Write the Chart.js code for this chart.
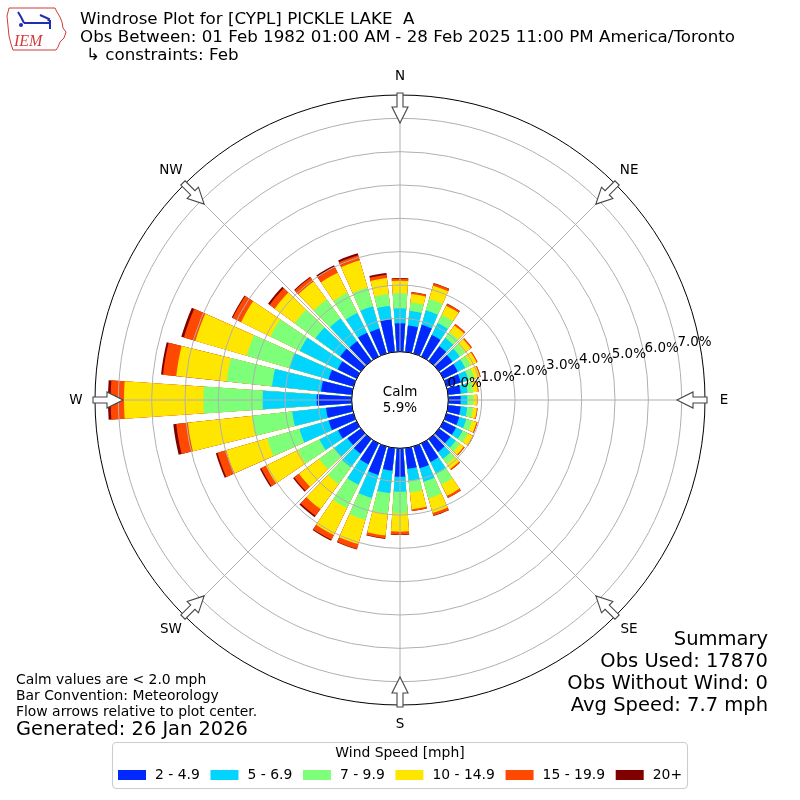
<!DOCTYPE html>
<html>
<head>
<meta charset="utf-8">
<script src="https://cdn.jsdelivr.net/npm/chart.js@4/dist/chart.umd.min.js"></script>
<style>
  body { margin: 0; background: #fff; }
  canvas { display: block; }
</style>
</head>
<body>
<canvas id="rose" width="800" height="800"></canvas>
<script>
// directions (deg, where the wind blows from)
const directions = [0,10,20,30,40,50,60,70,80,90,100,110,120,130,140,150,160,170,
                    180,190,200,210,220,230,240,250,260,270,280,290,300,310,320,330,340,350];
const speedBins = ['2 - 4.9', '5 - 6.9', '7 - 9.9', '10 - 14.9', '15 - 19.9', '20+'];
const binColors = ['#0028ff', '#00d4ff', '#7dff7a', '#ffe600', '#ff4800', '#800000'];

// frequency (%) per direction, one array per speed bin
const speed2to5   = [0.85,0.80,0.90,0.72,0.55,0.50,0.48,0.45,0.38,0.37,0.38,0.40,0.42,0.42,0.48,0.62,0.68,0.63,
                     0.85,0.68,0.89,0.70,0.55,0.50,0.62,0.78,0.78,1.05,0.93,0.78,0.63,0.77,0.73,0.80,0.78,0.99];
const speed5to7   = [0.45,0.44,0.45,0.40,0.30,0.27,0.25,0.24,0.21,0.20,0.20,0.22,0.22,0.20,0.25,0.40,0.42,0.36,
                     0.45,0.68,0.72,0.68,0.50,0.50,0.62,0.91,1.02,1.62,1.48,1.23,1.27,0.92,0.85,0.66,0.70,0.40];
const speed7to10  = [0.45,0.26,0.35,0.28,0.22,0.20,0.19,0.18,0.17,0.18,0.17,0.18,0.18,0.16,0.20,0.35,0.52,0.35,
                     0.65,0.62,0.68,0.78,0.62,0.55,0.72,1.01,1.22,1.78,1.37,1.33,0.98,0.77,0.70,0.67,0.58,0.36];
const speed10to15 = [0.38,0.25,0.42,0.30,0.25,0.21,0.19,0.17,0.14,0.11,0.12,0.14,0.16,0.14,0.18,0.38,0.46,0.51,
                     0.55,0.66,0.76,0.90,0.93,0.75,1.07,1.28,1.93,2.38,1.52,1.60,0.98,0.74,0.67,0.67,0.85,0.48];
const speed15to20 = [0.06,0.05,0.07,0.06,0.05,0.04,0.03,0.03,0.02,0.01,0.02,0.03,0.03,0.03,0.04,0.07,0.08,0.05,
                     0.09,0.08,0.15,0.16,0.25,0.18,0.16,0.27,0.35,0.40,0.40,0.36,0.28,0.19,0.15,0.20,0.16,0.10];
const speed20plus = [0.02,0.01,0.01,0.01,0,0,0,0,0,0,0,0,0,0,0,0,0.01,0,
                     0.01,0.02,0.02,0.03,0.05,0.04,0.04,0.05,0.09,0.08,0.06,0.08,0.03,0.06,0.03,0.05,0.06,0.05];

const tickValues = [0, 1, 2, 3, 4, 5, 6, 7];
const calmPct = '5.9%';
const compassNames = ['N', 'NE', 'E', 'SE', 'S', 'SW', 'W', 'NW'];

const titleLines = ['Windrose Plot for [CYPL] PICKLE LAKE  A',
  'Obs Between: 01 Feb 1982 01:00 AM - 28 Feb 2025 11:00 PM America/Toronto'];
const constraintLine = '\u21b3 constraints: Feb';
const noteLines = ['Calm values are < 2.0 mph', 'Bar Convention: Meteorology', 'Flow arrows relative to plot center.'];
const generatedLine = 'Generated: 26 Jan 2026';
const summaryLines = ['Summary', 'Obs Used: 17870', 'Obs Without Wind: 0', 'Avg Speed: 7.7 mph'];

// ----------------- build stacked datasets -----------------
const bins = [speed2to5, speed5to7, speed7to10, speed10to15, speed15to20, speed20plus];
const BAR_DEG = 7.8, GAP_DEG = 10 - BAR_DEG;
const FONT = "'DejaVu Sans', sans-serif";
const SMALL = '13.9px ' + FONT;

// every direction is followed by an empty slot that makes the gap between bars
const labels = [];
directions.forEach(d => { labels.push(d + '\u00b0'); labels.push(''); });

let running = directions.map(() => 0);
const datasets = bins.map((bin, k) => {
    running = running.map((v, i) => v + bin[i]);
    const data = [];
    running.forEach(v => { data.push(+v.toFixed(2)); data.push(0); });
    return {
        label: speedBins[k],
        data: data,
        backgroundColor: binColors[k],
        borderWidth: 0,
        angle: ctx => (ctx.dataIndex % 2 === 0 ? BAR_DEG : GAP_DEG)
    };
});

// ----------------- decorations -----------------
function drawArrow(ctx, cx, cy, theta) {
    const pts = [[277, 0], [293, 8], [293, 3], [307, 3], [307, -3], [293, -3], [293, -8]];
    const ux = Math.sin(theta), uy = -Math.cos(theta);
    const px = -uy, py = ux;
    ctx.beginPath();
    pts.forEach((p, i) => {
        const x = cx + ux * p[0] + px * p[1];
        const y = cy + uy * p[0] + py * p[1];
        if (i === 0) ctx.moveTo(x, y); else ctx.lineTo(x, y);
    });
    ctx.closePath();
    ctx.fillStyle = '#fff';
    ctx.fill();
    ctx.strokeStyle = '#444';
    ctx.lineWidth = 1.1;
    ctx.stroke();
}

function drawLogo(ctx) {
    ctx.save();
    ctx.strokeStyle = '#d43a3a';
    ctx.lineWidth = 1;
    ctx.beginPath();
    const outline = [[9,8],[55,8],[57,12],[60,17],[62,22],[63,28],[66,32],[64,38],[60,42],[58,47],[56,50],
                     [13,50],[11,44],[9,36],[8,26],[7,16]];
    outline.forEach((p, i) => (i === 0 ? ctx.moveTo(p[0], p[1]) : ctx.lineTo(p[0], p[1])));
    ctx.closePath();
    ctx.stroke();
    ctx.strokeStyle = '#1f2fb0';
    ctx.fillStyle = '#1f2fb0';
    ctx.lineWidth = 2;
    ctx.beginPath(); ctx.moveTo(24, 23); ctx.lineTo(50, 23); ctx.stroke();
    ctx.beginPath(); ctx.moveTo(18, 12); ctx.lineTo(21, 17); ctx.lineTo(24, 23); ctx.stroke();
    ctx.beginPath(); ctx.moveTo(40, 15); ctx.lineTo(49, 19); ctx.lineTo(48, 21); ctx.stroke();
    ctx.beginPath(); ctx.moveTo(50, 20); ctx.lineTo(50, 29); ctx.stroke();
    ctx.beginPath(); ctx.arc(21, 25, 2, 0, Math.PI * 2); ctx.fill();
    ctx.fillStyle = '#d43a3a';
    ctx.font = "italic 16px 'Liberation Serif', serif";
    ctx.textBaseline = 'alphabetic';
    ctx.textAlign = 'left';
    ctx.fillText('IEM', 14, 46);
    ctx.restore();
}

const windrosePlugin = {
    id: 'windrose',
    afterDatasetsDraw(chart) {
        // calm circle covers the bar roots
        const s = chart.scales.r, ctx = chart.ctx;
        ctx.save();
        ctx.beginPath();
        ctx.arc(s.xCenter, s.yCenter, s.getDistanceFromCenterForValue(0), 0, Math.PI * 2);
        ctx.fillStyle = '#fff';
        ctx.fill();
        ctx.restore();
    },
    afterDraw(chart) {
        const s = chart.scales.r, ctx = chart.ctx;
        const cx = s.xCenter, cy = s.yCenter;
        const hole = s.getDistanceFromCenterForValue(0);
        const outer = s.drawingArea;
        ctx.save();

        // spokes every 45 deg
        ctx.strokeStyle = '#b0b0b0';
        ctx.lineWidth = 1;
        for (let a = 0; a < 8; a++) {
            const t = a * Math.PI / 4;
            ctx.beginPath();
            ctx.moveTo(cx + Math.sin(t) * hole, cy - Math.cos(t) * hole);
            ctx.lineTo(cx + Math.sin(t) * outer, cy - Math.cos(t) * outer);
            ctx.stroke();
        }
        // hole and outer frame
        ctx.strokeStyle = '#000';
        ctx.lineWidth = 1;
        ctx.beginPath(); ctx.arc(cx, cy, hole, 0, Math.PI * 2); ctx.stroke();
        ctx.beginPath(); ctx.arc(cx, cy, outer, 0, Math.PI * 2); ctx.stroke();

        // arrows + compass labels
        ctx.font = '13.5px ' + FONT;
        ctx.textAlign = 'center';
        ctx.textBaseline = 'middle';
        compassNames.forEach((name, i) => {
            const t = i * Math.PI / 4;
            drawArrow(ctx, cx, cy, t);
            ctx.fillStyle = '#000';
            ctx.fillText(name, cx + Math.sin(t) * 324, cy - Math.cos(t) * 324);
        });

        // radial tick labels
        ctx.textAlign = 'left';
        const la = 10 * Math.PI / 180;
        tickValues.forEach(v => {
            const r = s.getDistanceFromCenterForValue(v);
            ctx.fillText(v.toFixed(1) + '%', cx + r * Math.cos(la), cy - r * Math.sin(la) - 8.6);
        });

        // calm
        ctx.textAlign = 'center';
        ctx.fillText('Calm', cx, cy - 8);
        ctx.fillText(calmPct, cx, cy + 8);

        // header
        drawLogo(ctx);
        ctx.textAlign = 'left';
        ctx.font = '16.7px ' + FONT;
        ctx.fillText(titleLines[0], 80, 20);
        ctx.fillText(titleLines[1], 80, 38);
        ctx.fillText(constraintLine, 86, 56);

        // notes bottom left
        ctx.font = SMALL;
        noteLines.forEach((t, i) => ctx.fillText(t, 16, 680 + i * 16));
        ctx.font = '19.4px ' + FONT;
        ctx.fillText(generatedLine, 16, 730);

        // summary bottom right
        ctx.textAlign = 'right';
        ctx.font = '19.5px ' + FONT;
        summaryLines.forEach((t, i) => ctx.fillText(t, 768, 640 + i * 22));

        // legend
        ctx.beginPath();
        ctx.roundRect(112.5, 742.5, 575, 46, 4);
        ctx.fillStyle = 'rgba(255,255,255,0.8)';
        ctx.fill();
        ctx.strokeStyle = '#cccccc';
        ctx.stroke();
        ctx.fillStyle = '#000';
        ctx.textAlign = 'center';
        ctx.font = SMALL;
        ctx.fillText('Wind Speed [mph]', 400, 753);
        ctx.textAlign = 'left';
        let x = 118;
        speedBins.forEach((name, k) => {
            ctx.fillStyle = binColors[k];
            ctx.fillRect(x, 770, 28, 10);
            ctx.fillStyle = '#000';
            ctx.fillText(name, x + 37, 775);
            x += 37 + ctx.measureText(name).width + 10.7;
        });
        ctx.restore();
    }
};

new Chart(document.getElementById('rose'), {
    type: 'polarArea',
    data: { labels: labels, datasets: datasets },
    options: {
        responsive: false,
        animation: false,
        layout: { padding: 95 },
        plugins: { legend: { display: false }, tooltip: { enabled: false } },
        scales: {
            r: {
                min: -1.45,
                max: 7.70,
                startAngle: -BAR_DEG / 2,
                afterBuildTicks: scale => { scale.ticks = tickValues.map(v => ({ value: v })); },
                ticks: { display: false },
                grid: { circular: true, color: '#b0b0b0', lineWidth: 1, z: 1 },
                angleLines: { display: false },
                pointLabels: { display: false }
            }
        }
    },
    plugins: [windrosePlugin]
});
</script>
</body>
</html>
